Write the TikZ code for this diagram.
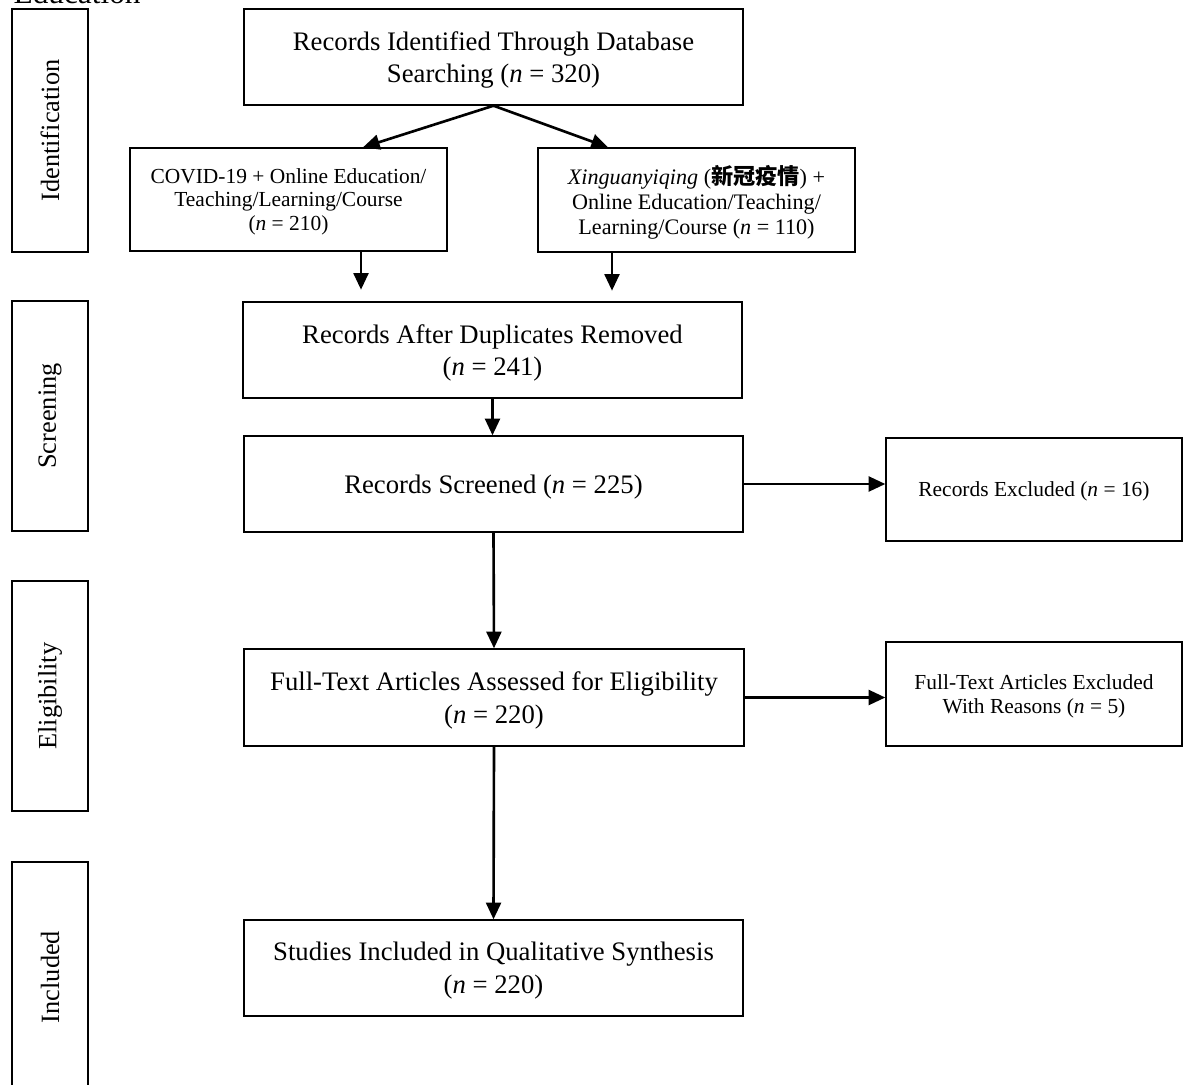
\documentclass[tikz,border=0pt]{standalone}
\usepackage{fontspec}
\setmainfont{Liberation Serif}
\newfontfamily\cjk{Noto Sans CJK SC}
\usetikzlibrary{arrows.meta}

\begin{document}
\begin{tikzpicture}[line width=0.8pt,
  box/.style={draw,align=center,inner sep=2pt,text depth=0pt,font=\fontsize{15.2}{18.6}\selectfont},
  sidebox/.style={draw,align=center,inner sep=2pt,text depth=0pt,font=\fontsize{12.2}{13.6}\selectfont},
  phase/.style={draw,minimum width=1.52cm,minimum height=4.6cm},
  phasetext/.style={rotate=90,font=\fontsize{15}{17}\selectfont},
  arr/.style={-{Triangle[length=9.5pt,width=8.5pt]},line width=1.5pt}]
  \useasboundingbox (0,0) rectangle (23.66,-21.7);

  % phase boxes on the left
  \node[anchor=base west,font=\fontsize{17.8}{20}\selectfont,inner sep=0pt] (title) at (0.26,-0.06) {Education};
  \node[phase,minimum height=4.86cm] (pident) at (1.0,-2.61) {};
  \node[phasetext] at (pident.center) {Identification};
  \node[phase] (pscreen) at (1.0,-8.32) {};
  \node[phasetext] at (pscreen.center) {Screening};
  \node[phase] (pelig) at (1.0,-13.92) {};
  \node[phasetext] at (pelig.center) {Eligibility};
  \node[phase] (pincl) at (1.0,-19.54) {};
  \node[phasetext] at (pincl.center) {Included};

  % flow boxes
  \node[box,minimum width=9.98cm,minimum height=1.92cm] (top) at (9.87,-1.14)
    {Records Identified Through Database\\Searching (\textit{n} = 320)};
  \node[sidebox,minimum width=6.34cm,minimum height=2.06cm] (left) at (5.77,-3.99)
    {COVID-19 + Online Education/\\Teaching/Learning/Course\\(\textit{n} = 210)};
  \node[sidebox,minimum width=6.34cm,minimum height=2.08cm,font=\fontsize{12.6}{14.4}\selectfont] (right) at (13.93,-4.0)
    {\textit{Xinguanyiqing} ({\cjk\bfseries 新冠疫情}) +\\Online Education/Teaching/\\Learning/Course (\textit{n} = 110)};
  \node[box,minimum width=9.98cm,minimum height=1.92cm] (dup) at (9.85,-7.0)
    {Records After Duplicates Removed\\(\textit{n} = 241)};
  \node[box,minimum width=9.98cm,minimum height=1.92cm] (scr) at (9.87,-9.68)
    {Records Screened (\textit{n} = 225)};
  \node[sidebox,minimum width=5.92cm,minimum height=2.06cm] (excl1) at (20.68,-9.79)
    {Records Excluded (\textit{n} = 16)};
  \node[box,minimum width=10.0cm,minimum height=1.94cm] (full) at (9.88,-13.95)
    {Full-Text Articles Assessed for Eligibility\\(\textit{n} = 220)};
  \node[sidebox,minimum width=5.92cm,minimum height=2.08cm] (excl2) at (20.68,-13.88)
    {Full-Text Articles Excluded\\With Reasons (\textit{n} = 5)};
  \node[box,minimum width=9.98cm,minimum height=1.92cm] (stud) at (9.87,-19.36)
    {Studies Included in Qualitative Synthesis\\(\textit{n} = 220)};

  % arrows
  \draw[arr] (top.south) -- ([xshift=1.49cm]left.north);
  \draw[arr] (top.south) -- ([xshift=-1.77cm]right.north);
  \draw[arr] ([xshift=1.45cm]left.south) -- ++(0,-0.76);
  \draw[arr] ([xshift=-1.69cm]right.south) -- ++(0,-0.76);
  \draw[arr] (dup.south) -- (dup.south |- scr.north);
  \draw[arr] (scr.east) -- (scr.east -| excl1.west);
  \draw[arr] (scr.south) -- (full.north);
  \draw[arr] (full.east) -- (full.east -| excl2.west);
  \draw[arr] (full.south) -- (stud.north);
\end{tikzpicture}
\end{document}
